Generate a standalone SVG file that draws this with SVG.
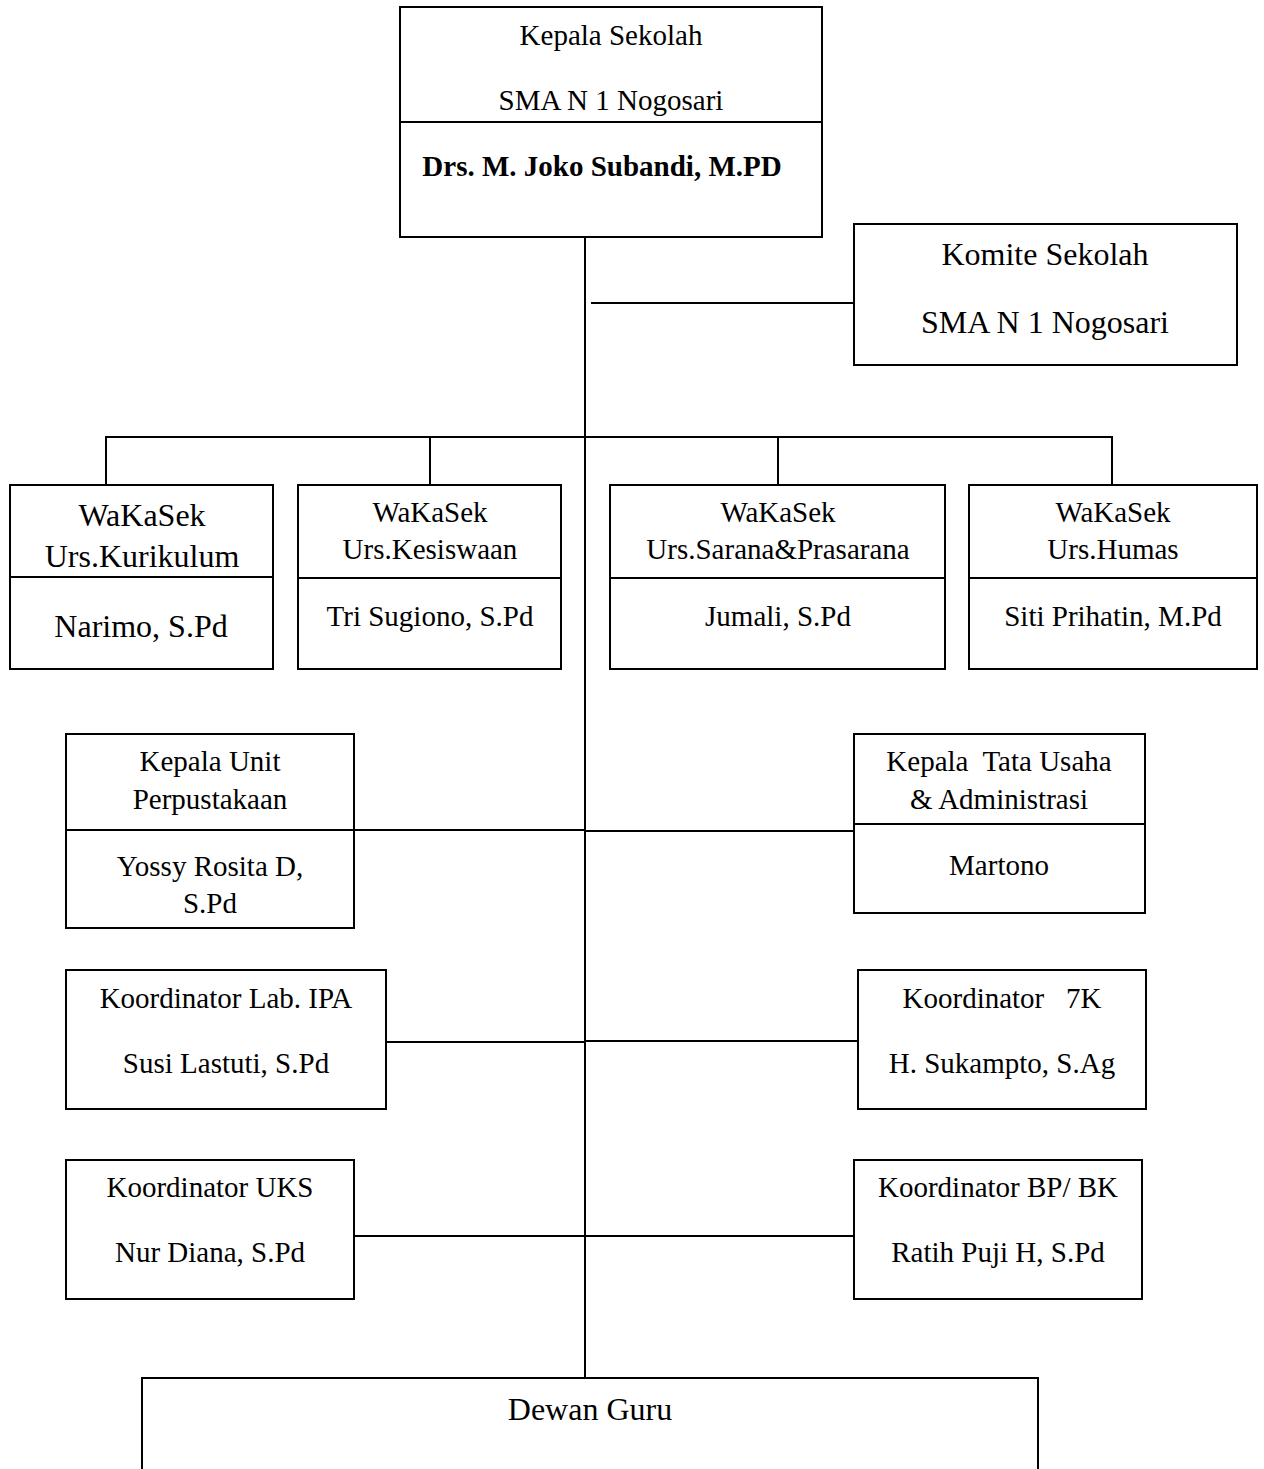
<svg xmlns="http://www.w3.org/2000/svg" width="1264" height="1469" viewBox="0 0 1264 1469">
<style>
.box{fill:#fff;stroke:#000;stroke-width:2}
.div{stroke:#000;stroke-width:2}
.ln{stroke:#000;stroke-width:2;fill:none}
text{font-family:"Liberation Serif","Times New Roman",serif;font-size:29px;fill:#000;text-anchor:middle;white-space:pre}
.lg{font-size:32px}
.b{font-weight:bold}
</style>
<rect width="1264" height="1469" fill="#fff"/>
<g id="connectors">
<line class="ln" x1="585" y1="237" x2="585" y2="1378"/>
<line class="ln" x1="591" y1="303" x2="854" y2="303"/>
<line class="ln" x1="106" y1="437" x2="1112" y2="437"/>
<line class="ln" x1="106" y1="436" x2="106" y2="485"/>
<line class="ln" x1="430" y1="436" x2="430" y2="485"/>
<line class="ln" x1="778" y1="436" x2="778" y2="485"/>
<line class="ln" x1="1112" y1="436" x2="1112" y2="485"/>
<line class="ln" x1="354" y1="830" x2="585" y2="830"/>
<line class="ln" x1="585" y1="831" x2="854" y2="831"/>
<line class="ln" x1="386" y1="1042" x2="585" y2="1042"/>
<line class="ln" x1="585" y1="1041" x2="858" y2="1041"/>
<line class="ln" x1="354" y1="1236" x2="854" y2="1236"/>
</g>
<g id="kepala-sekolah">
<rect class="box" x="400" y="7" width="422" height="230"/>
<line class="div" x1="400" y1="122" x2="822" y2="122"/>
<text x="611" y="45">Kepala Sekolah</text>
<text x="611" y="110">SMA N 1 Nogosari</text>
<text class="b" x="602" y="176">Drs. M. Joko Subandi, M.PD</text>
</g>
<g id="komite">
<rect class="box" x="854" y="224" width="383" height="141"/>
<text class="lg" x="1045" y="265">Komite Sekolah</text>
<text class="lg" x="1045" y="333">SMA N 1 Nogosari</text>
</g>
<g id="wakasek-kurikulum">
<rect class="box" x="10" y="485" width="263" height="184"/>
<line class="div" x1="10" y1="577" x2="273" y2="577"/>
<text class="lg" x="142" y="526">WaKaSek</text>
<text class="lg" x="142" y="567">Urs.Kurikulum</text>
<text class="lg" x="141" y="637">Narimo, S.Pd</text>
</g>
<g id="wakasek-kesiswaan">
<rect class="box" x="298" y="485" width="263" height="184"/>
<line class="div" x1="298" y1="578" x2="561" y2="578"/>
<text x="430" y="522">WaKaSek</text>
<text x="430" y="559">Urs.Kesiswaan</text>
<text x="430" y="626">Tri Sugiono, S.Pd</text>
</g>
<g id="wakasek-sarana">
<rect class="box" x="610" y="485" width="335" height="184"/>
<line class="div" x1="610" y1="578" x2="945" y2="578"/>
<text x="778" y="522">WaKaSek</text>
<text x="778" y="559">Urs.Sarana&amp;Prasarana</text>
<text x="778" y="626">Jumali, S.Pd</text>
</g>
<g id="wakasek-humas">
<rect class="box" x="969" y="485" width="288" height="184"/>
<line class="div" x1="969" y1="578" x2="1257" y2="578"/>
<text x="1113" y="522">WaKaSek</text>
<text x="1113" y="559">Urs.Humas</text>
<text x="1113" y="626">Siti Prihatin, M.Pd</text>
</g>
<g id="perpustakaan">
<rect class="box" x="66" y="734" width="288" height="194"/>
<line class="div" x1="66" y1="830" x2="354" y2="830"/>
<text x="210" y="771">Kepala Unit</text>
<text x="210" y="809">Perpustakaan</text>
<text x="210" y="876">Yossy Rosita D,</text>
<text x="210" y="913">S.Pd</text>
</g>
<g id="tata-usaha">
<rect class="box" x="854" y="734" width="291" height="179"/>
<line class="div" x1="854" y1="824" x2="1145" y2="824"/>
<text x="999" y="771">Kepala  Tata Usaha</text>
<text x="999" y="809">&amp; Administrasi</text>
<text x="999" y="875">Martono</text>
</g>
<g id="lab-ipa">
<rect class="box" x="66" y="970" width="320" height="139"/>
<text x="226" y="1008">Koordinator Lab. IPA</text>
<text x="226" y="1073">Susi Lastuti, S.Pd</text>
</g>
<g id="koordinator-7k">
<rect class="box" x="858" y="970" width="288" height="139"/>
<text x="1002" y="1008">Koordinator   7K</text>
<text x="1002" y="1073">H. Sukampto, S.Ag</text>
</g>
<g id="uks">
<rect class="box" x="66" y="1160" width="288" height="139"/>
<text x="210" y="1197">Koordinator UKS</text>
<text x="210" y="1262">Nur Diana, S.Pd</text>
</g>
<g id="bp-bk">
<rect class="box" x="854" y="1160" width="288" height="139"/>
<text x="998" y="1197">Koordinator BP/ BK</text>
<text x="998" y="1262">Ratih Puji H, S.Pd</text>
</g>
<g id="dewan-guru">
<rect class="box" x="142" y="1378" width="896" height="100"/>
<text class="lg" x="590" y="1420">Dewan Guru</text>
</g>
</svg>
